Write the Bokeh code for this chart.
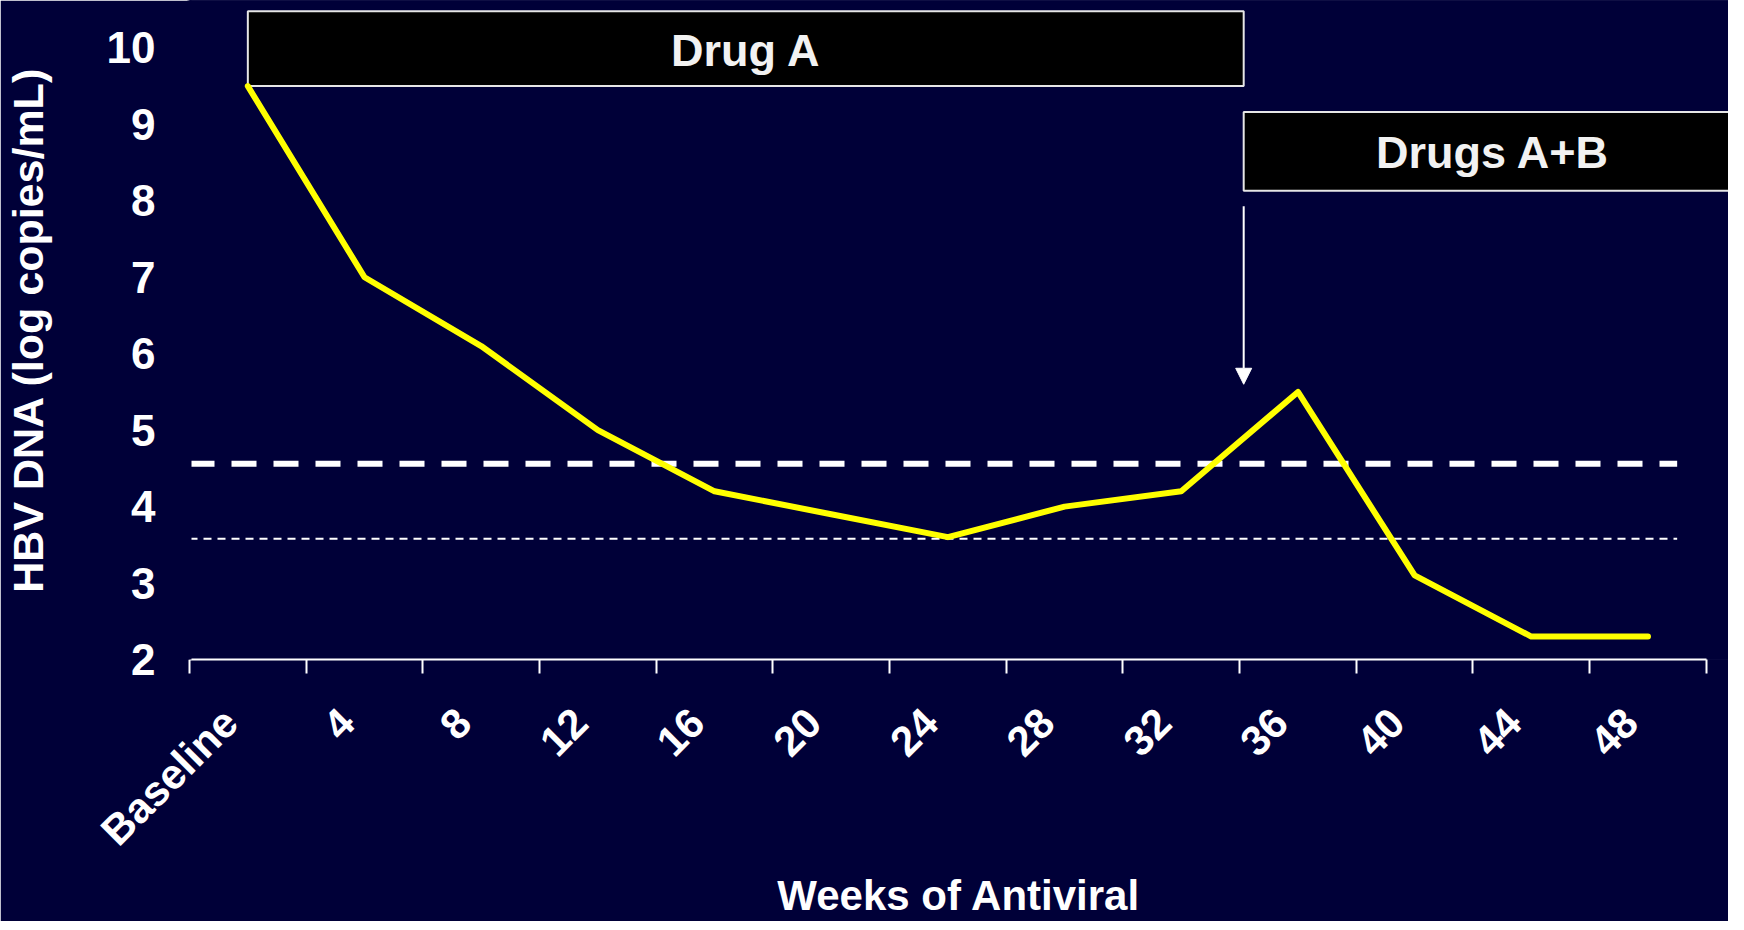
import numpy as np
from bokeh.plotting import figure
from bokeh.models import Range1d, FixedTicker, Arrow, NormalHead
from bokeh.core.properties import value
from bokeh.embed import file_html
from bokeh.resources import INLINE

# ---- data ----
categories = ["Baseline", "4", "8", "12", "16", "20", "24", "28", "32", "36", "40", "44", "48"]
hbv_dna = [9.5, 7.0, 6.1, 5.0, 4.2, 3.9, 3.6, 4.0, 4.2, 5.5, 3.1, 2.3, 2.3]
upper_threshold = 4.56
lower_threshold = 3.58
y_ticks = [2, 3, 4, 5, 6, 7, 8, 9, 10]
phases = ["Drug A", "Drugs A+B"]

BG = "#000038"
FONT = "Liberation Sans"

xs = [i + 0.5 for i in range(len(categories))]
label_pos = [x - 0.15 for x in xs]
boundaries = list(range(len(categories) + 1))

p = figure(width=1728, height=921,
           x_range=Range1d(0, 13.19), y_range=Range1d(2, 10.62),
           output_backend="svg", toolbar_location=None,
           background_fill_color=BG, border_fill_color=BG,
           min_border_left=183, min_border_right=0,
           min_border_top=0, min_border_bottom=261,
           outline_line_color=None)
p.grid.visible = False

# cover the frame edges with the background colour (hides anti-alias seams)
for _ in range(3):
    p.quad(left=[-5], right=[20], bottom=[-5], top=[20],
           fill_color=BG, line_color=None)

# x axis
xa = p.xaxis[0]
xa.ticker = FixedTicker(ticks=label_pos, minor_ticks=boundaries)
xa.major_label_overrides = {x: c for x, c in zip(label_pos, categories)}
xa.bounds = (0, len(categories))
xa.axis_line_color = "white"
xa.axis_line_width = 2
xa.major_tick_line_color = None
xa.major_tick_out = 14
xa.major_tick_in = 0
xa.minor_tick_line_color = "white"
xa.minor_tick_line_width = 2
xa.minor_tick_out = 14
xa.minor_tick_in = 0
xa.major_label_orientation = np.pi / 4
xa.major_label_standoff = 42
xa.major_label_text_font = FONT
xa.major_label_text_font_style = "bold"
xa.major_label_text_font_size = "42px"
xa.major_label_text_color = "white"
xa.axis_label = "Weeks of Antiviral"
xa.axis_label_text_font = FONT
xa.axis_label_text_font_style = "bold"
xa.axis_label_text_font_size = "42px"
xa.axis_label_text_color = "white"
xa.axis_label_standoff = -2

# y axis (its line is painted in the background colour to hide the frame seam)
ya = p.yaxis[0]
ya.ticker = FixedTicker(ticks=y_ticks)
ya.axis_line_color = BG
ya.axis_line_width = 4
ya.major_tick_line_color = None
ya.minor_tick_line_color = None
ya.major_tick_out = 0
ya.major_tick_in = 0
ya.major_label_standoff = 34
ya.major_label_text_font = FONT
ya.major_label_text_font_style = "bold"
ya.major_label_text_font_size = "44px"
ya.major_label_text_color = "white"
ya.axis_label = "HBV DNA (log copies/mL)"
ya.axis_label_text_font = FONT
ya.axis_label_text_font_style = "bold"
ya.axis_label_text_font_size = "43px"
ya.axis_label_text_color = "white"
ya.axis_label_standoff = 52

# threshold lines
p.line([0, 12.75], [upper_threshold, upper_threshold], line_color="white",
       line_width=6, line_dash="25 17")
p.line([0, 12.75], [lower_threshold, lower_threshold], line_color="white",
       line_width=2, line_dash="8 6")

# phase boxes
p.quad(left=[0.5, 9.035], right=[9.035, 14], bottom=[9.5, 8.13], top=[10.48, 9.16],
       fill_color="black", line_color="#e6e6e6", line_width=2)
p.text(x=[4.77, 11.17], y=[9.97, 8.63], text=phases,
       text_font=value(FONT), text_font_style="bold", text_font_size="45px",
       text_color="#f2f2f2", text_align="center", text_baseline="middle")

# arrow
p.add_layout(Arrow(end=NormalHead(size=16, fill_color="white", line_color="white", line_width=1),
                   x_start=9.035, y_start=7.93, x_end=9.035, y_end=5.6,
                   line_color="white", line_width=2))

# data line
p.line(xs, hbv_dna, line_color="#ffff00", line_width=6,
       line_join="round", line_cap="round")

open("out.html", "w").write(file_html(p, INLINE))
